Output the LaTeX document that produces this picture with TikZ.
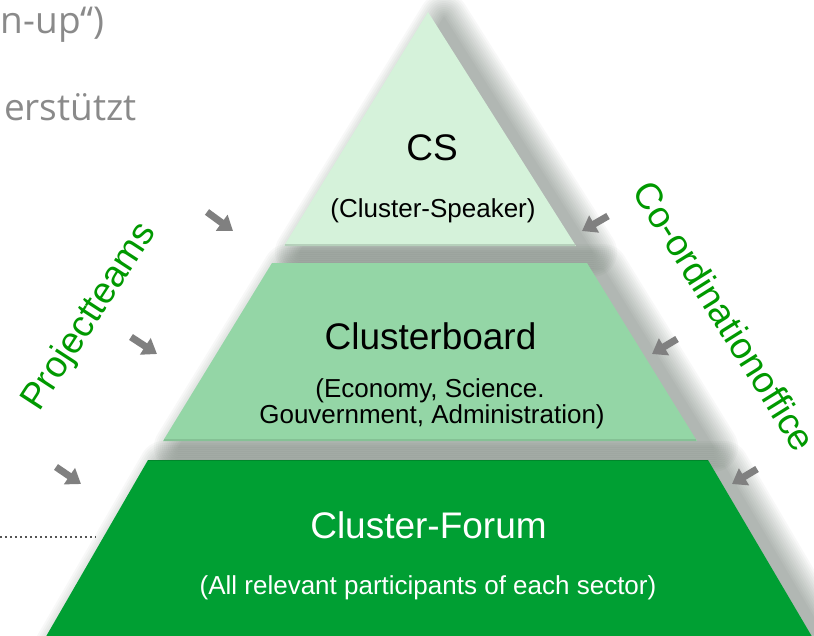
\documentclass[tikz,border=0pt]{standalone}
\usepackage{fontspec}
\newfontfamily\arial{Liberation Sans}
\newfontfamily\slidefont{Open Sans}
\usetikzlibrary{arrows.meta}
\definecolor{topgreen}{HTML}{D5F2DA}
\definecolor{midgreen}{HTML}{94D6A6}
\definecolor{botgreen}{HTML}{009F33}
\definecolor{labelgreen}{HTML}{009900}
\definecolor{arrowgray}{HTML}{808080}
\definecolor{slidegray}{HTML}{8A8A8A}
\definecolor{dotgray}{HTML}{555555}
\definecolor{shadowtone}{HTML}{2A3C2E}
\newcommand{\mysoftshadow}[1]{%
  \begin{scope}[shift={(16,6)}]
    \foreach \w in {2,6,...,50} {
      \begin{scope}[transparency group, opacity=0.032]
        \filldraw[shadowtone, line width=\w pt, line join=round] #1;
      \end{scope}
    }
  \end{scope}}
\begin{document}
\begin{tikzpicture}[x=1pt,y=-1pt,
  bigtxt/.style={font=\arial\fontsize{37}{40}\selectfont, anchor=base, inner sep=0pt},
  smalltxt/.style={font=\arial\fontsize{26}{26}\selectfont, anchor=base, inner sep=0pt},
  sidelabel/.style={font=\arial\fontsize{37}{40}\selectfont, text=labelgreen, inner sep=0pt},
  slidetxt/.style={font=\slidefont\fontsize{37}{40}\selectfont, text=slidegray, anchor=base east, inner sep=0pt},
  pointer/.style={draw=arrowgray, line width=7pt, -{Triangle[length=14pt,width=19pt]}, fill=arrowgray},
]
\useasboundingbox (0,0) rectangle (814,635);
\fill[white] (0,0) rectangle (814,635);

% background slide text (cut off at left)
\node[slidetxt] (s1) at (105,33) {n-up“)};
\node[slidetxt] (s2) at (137,120) {erstützt};

% dotted line
\coordinate (d1) at (0,537);
\coordinate (d2) at (96,537);
\draw[dotgray, line width=1.6pt, dash pattern=on 1.6pt off 3.4pt] (d1) -- (d2);

% pyramid layers with soft shadows
\mysoftshadow{(428,12) -- (576,246) -- (284,246) -- cycle}
\fill[topgreen] (428,12) -- (576,246) -- (284,246) -- cycle;
\draw[topgreen!88!black, line width=1.5pt] (285,245) -- (575,245);
\mysoftshadow{(272,263) -- (587,263) -- (697,441) -- (163,441) -- cycle}
\fill[midgreen] (272,263) -- (587,263) -- (697,441) -- (163,441) -- cycle;
\draw[midgreen!90!black, line width=1.5pt] (164,440) -- (696,440);
\mysoftshadow{(148,460) -- (708,460) -- (814,640) -- (44,640) -- cycle}
\fill[botgreen] (148,460) -- (708,460) -- (814,640) -- (44,640) -- cycle;
\draw[botgreen!85!black, line width=1pt] (148,460.5) -- (708,460.5);

% texts
\node[bigtxt] (cs) at (432,160) {CS};
\node[smalltxt] (csn) at (433,217) {(Cluster-Speaker)};
\node[bigtxt] (cb) at (430.5,349) {Clusterboard};
\node[smalltxt] (cb1) at (430,397) {(Economy, Science.};
\node[smalltxt] (cb2) at (432,423) {Gouvernment, Administration)};
\node[bigtxt, text=white] (cf) at (428.5,538) {Cluster-Forum};
\node[smalltxt, text=white] (cfn) at (428,594) {(All relevant participants of each sector)};

% side labels
\node[sidelabel, rotate=57] (pt) at (90,317) {Projectteams};
\node[sidelabel, rotate=-58] (co) at (725,316) {Co-ordinationoffice};

% arrows
\coordinate (la1) at (207,212); \coordinate (lb1) at (233,231);
\coordinate (la2) at (131,337); \coordinate (lb2) at (157,354);
\coordinate (la3) at (56,467);  \coordinate (lb3) at (81,484);
\coordinate (ra1) at (608,216); \coordinate (rb1) at (582,231);
\coordinate (ra2) at (677,339); \coordinate (rb2) at (652,354);
\coordinate (ra3) at (757,469); \coordinate (rb3) at (732,484);
\draw[pointer] (la1) -- (lb1);
\draw[pointer] (la2) -- (lb2);
\draw[pointer] (la3) -- (lb3);
\draw[pointer] (ra1) -- (rb1);
\draw[pointer] (ra2) -- (rb2);
\draw[pointer] (ra3) -- (rb3);
\end{tikzpicture}
\end{document}
